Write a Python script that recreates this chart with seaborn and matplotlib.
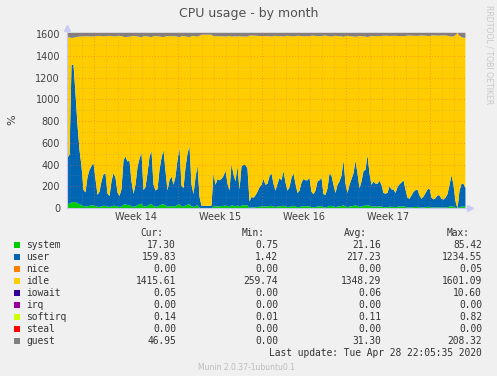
import matplotlib
matplotlib.use("Agg")
import matplotlib.pyplot as plt
import matplotlib.dates as mdates
import matplotlib.patches as mpatches
import pandas as pd
import seaborn as sns

# One sample every 4 hours, first sample on 2020-03-27 18:00
start = pd.Timestamp('2020-03-27 18:00')
step_hours = 4

user = [
    430, 450, 1265, 1265, 1000, 720, 500, 360, 150, 130,
    270, 330, 360, 390, 250, 110, 140, 230, 290, 300,
    120, 100, 230, 300, 260, 130, 100, 160, 410, 440,
    400, 410, 230, 120, 200, 350, 420, 470, 150, 180,
    300, 440, 490, 200, 150, 160, 330, 430, 500, 320,
    150, 240, 270, 200, 270, 415, 520, 190, 170, 350,
    470, 535, 200, 120, 260, 370, 100, 25, 25, 25,
    25, 25, 25, 300, 200, 250, 240, 250, 275, 320,
    210, 150, 380, 290, 230, 360, 160, 360, 370, 370,
    340, 60, 95, 90, 110, 140, 180, 200, 250, 200,
    210, 275, 300, 210, 150, 210, 260, 240, 320, 220,
    150, 180, 260, 300, 210, 130, 150, 220, 250, 240,
    240, 260, 140, 120, 150, 230, 240, 260, 120, 115,
    170, 300, 280, 200, 130, 200, 230, 280, 415, 210,
    130, 200, 250, 300, 410, 300, 170, 230, 320, 330,
    460, 300, 200, 230, 210, 210, 235, 200, 130, 125,
    130, 190, 160, 160, 130, 180, 205, 220, 240, 160,
    90, 80, 110, 140, 155, 160, 110, 80, 100, 130,
    160, 170, 90, 75, 85, 110, 110, 80, 75, 90,
    120, 200, 285, 200, 60, 0, 150, 210, 210, 170,
]

system = [
    38, 45, 55, 60, 58, 48, 40, 30, 22, 18,
    20, 25, 30, 28, 22, 16, 15, 20, 25, 24,
    18, 15, 20, 26, 24, 17, 15, 18, 35, 38,
    32, 30, 20, 15, 20, 30, 38, 45, 20, 18,
    25, 35, 42, 22, 16, 18, 28, 35, 40, 28,
    16, 20, 25, 18, 22, 32, 40, 20, 18, 28,
    35, 40, 20, 14, 22, 30, 8, 0, 0, 0,
    0, 0, 0, 25, 18, 20, 20, 22, 24, 28,
    20, 15, 30, 25, 20, 28, 15, 28, 30, 30,
    28, 6, 10, 10, 12, 14, 16, 18, 22, 18,
    18, 22, 25, 18, 14, 18, 22, 20, 26, 19,
    14, 16, 22, 25, 18, 13, 14, 19, 21, 20,
    20, 22, 13, 12, 14, 19, 20, 22, 12, 11,
    15, 24, 23, 18, 13, 18, 20, 23, 30, 18,
    13, 18, 21, 24, 30, 24, 15, 19, 25, 26,
    32, 24, 18, 19, 18, 18, 20, 18, 13, 12,
    13, 17, 15, 15, 13, 16, 18, 19, 20, 15,
    10, 9, 11, 13, 14, 15, 11, 9, 10, 12,
    15, 15, 10, 9, 9, 11, 11, 9, 8, 10,
    12, 17, 22, 17, 8, 0, 14, 17, 17, 17,
]

guest = [
    40, 45, 48, 46, 42, 38, 36, 35, 34, 33,
    32, 34, 36, 35, 33, 30, 30, 32, 34, 33,
    30, 29, 31, 34, 33, 30, 29, 31, 38, 40,
    38, 37, 32, 29, 31, 35, 38, 42, 33, 31,
    34, 38, 41, 33, 30, 31, 35, 38, 40, 35,
    30, 32, 34, 31, 33, 37, 40, 32, 31, 34,
    38, 41, 32, 29, 33, 36, 28, 18, 18, 18,
    18, 18, 18, 34, 31, 33, 32, 33, 34, 36,
    32, 29, 37, 34, 32, 36, 30, 35, 36, 36,
    35, 26, 27, 27, 28, 29, 30, 31, 33, 31,
    31, 33, 35, 31, 29, 31, 33, 32, 35, 32,
    29, 30, 33, 35, 31, 28, 29, 32, 33, 32,
    32, 33, 28, 27, 29, 32, 32, 33, 27, 27,
    30, 35, 34, 31, 28, 31, 32, 34, 38, 31,
    28, 31, 33, 35, 38, 35, 30, 32, 35, 35,
    40, 35, 31, 32, 31, 31, 32, 31, 28, 28,
    28, 30, 29, 29, 28, 30, 31, 32, 33, 30,
    26, 25, 27, 28, 29, 29, 27, 25, 26, 28,
    29, 30, 26, 25, 25, 27, 27, 25, 25, 26,
    28, 32, 37, 32, 24, 0, 28, 40, 46, 47,
]

# top of the stack (16 cores + guest)
total_top = 1617

names = ['system', 'user', 'nice', 'idle', 'iowait', 'irq', 'softirq',
         'steal', 'guest']
colors = ['#00CC00', '#0066B3', '#FF8000', '#FFCC00', '#330099', '#990099',
          '#CCFF00', '#FF0000', '#808080']
cur_vals = [17.30, 159.83, 0.00, 1415.61, 0.05, 0.00, 0.14, 0.00, 46.95]
min_vals = [0.75, 1.42, 0.00, 259.74, 0.00, 0.00, 0.01, 0.00, 0.00]
avg_vals = [21.16, 217.23, 0.00, 1348.29, 0.06, 0.00, 0.11, 0.00, 31.30]
max_vals = [85.42, 1234.55, 0.05, 1601.09, 10.60, 0.00, 0.82, 0.00, 208.32]

week_labels = ['Week 14', 'Week 15', 'Week 16', 'Week 17']
week_starts = ['2020-03-30', '2020-04-06', '2020-04-13', '2020-04-20']

df = pd.DataFrame({'system': system, 'user': user, 'guest': guest})
df['time'] = pd.date_range(start, periods=len(df), freq=f'{step_hours}h')
df['idle'] = total_top - df['system'] - df['user'] - df['guest']

sns.set_style('white')
plt.rcParams['font.family'] = ['DejaVu Sans']

W, H = 497, 376
fig = plt.figure(figsize=(W / 100, H / 100), dpi=100, facecolor='#F0F0F0')
ax = fig.add_axes([67 / W, (H - 208) / H, 399 / W, 175.8 / H])
ax.set_facecolor('white')

ax.stackplot(df['time'], df['system'], df['user'], df['idle'], df['guest'],
             colors=[colors[0], colors[1], colors[3], colors[8]],
             linewidth=0, zorder=1)

x_left = start
x_right = start + pd.Timedelta(hours=798)
ax.set_xlim(x_left, x_right)
ax.set_ylim(0, total_top)

ax.xaxis.set_major_locator(mdates.WeekdayLocator(byweekday=mdates.MO))
ax.xaxis.set_minor_locator(mdates.DayLocator())
ax.xaxis.set_major_formatter(plt.NullFormatter())
ax.set_yticks(range(0, 1601, 200))
ax.set_yticks(range(100, 1601, 200), minor=True)

ax.set_axisbelow(False)
ax.grid(which='major', color='#E86060', linestyle=(0, (1, 2.5)),
        linewidth=0.6, alpha=0.6)
ax.grid(which='minor', color='#909090', linestyle=(0, (1, 2.5)),
        linewidth=0.5, alpha=0.5)

ax.tick_params(axis='y', which='major', length=2, pad=3, color='#E08080',
               labelsize=7, labelcolor='#404040')
ax.tick_params(axis='y', which='minor', length=0)
ax.tick_params(axis='x', which='both', length=0, labelsize=7)

sns.despine(ax=ax, top=True, right=True)
for side in ['left', 'bottom']:
    ax.spines[side].set_color('#C8C8EE')
    ax.spines[side].set_linewidth(0.8)

# axis arrows
ax.plot([0], [1 + 4 / 175.8], marker='^', markersize=5, color='#C8CCF4',
        transform=ax.transAxes, clip_on=False)
ax.plot([1 + 4 / 399], [0], marker='>', markersize=5, color='#C8CCF4',
        transform=ax.transAxes, clip_on=False)

for label, ws in zip(week_labels, week_starts):
    mid = pd.Timestamp(ws) + pd.Timedelta(hours=84)
    ax.text(mid, -9 * total_top / 175.8, label, ha='center', va='center',
            fontsize=7, color='#404040')

ax.set_ylabel('%', fontsize=8, color='#404040', labelpad=13)

fig.text(248.5 / W, 1 - 13.5 / H, 'CPU usage - by month', ha='center',
         va='center', fontsize=9, color='#505050')
fig.text(489 / W, 1 - 5 / H, 'RRDTOOL / TOBI OETIKER', rotation=-90,
         ha='center', va='top', fontsize=5.6, color='#C8C8C8')

# legend table
mono = 'DejaVu Sans Mono'
txt = '#333333'
fs = 6.9
header_y = 233
fig.text(163 / W, 1 - header_y / H, 'Cur:', ha='right', va='center',
         family=mono, fontsize=fs, color=txt)
fig.text(265 / W, 1 - header_y / H, 'Min:', ha='right', va='center',
         family=mono, fontsize=fs, color=txt)
fig.text(367 / W, 1 - header_y / H, 'Avg:', ha='right', va='center',
         family=mono, fontsize=fs, color=txt)
fig.text(470 / W, 1 - header_y / H, 'Max:', ha='right', va='center',
         family=mono, fontsize=fs, color=txt)

for i, name in enumerate(names):
    y = 1 - (245 + 12 * i) / H
    fig.patches.append(mpatches.Rectangle((14 / W, y - 3 / H), 6 / W, 6 / H,
                                          transform=fig.transFigure,
                                          facecolor=colors[i],
                                          edgecolor='none'))
    fig.text(26 / W, y, name, ha='left', va='center', family=mono,
             fontsize=fs, color=txt)
    for xr, val in zip([176, 278, 381, 482],
                       [cur_vals[i], min_vals[i], avg_vals[i], max_vals[i]]):
        fig.text(xr / W, y, f'{val:.2f}', ha='right', va='center',
                 family=mono, fontsize=fs, color=txt)

fig.text(482 / W, 1 - 353 / H, 'Last update: Tue Apr 28 22:05:35 2020',
         ha='right', va='center', family=mono, fontsize=fs, color=txt)
fig.text(246 / W, 1 - 367 / H, 'Munin 2.0.37-1ubuntu0.1', ha='center',
         va='center', fontsize=5.5, color='#BBBBBB')

fig.savefig('out.png', dpi=100, facecolor=fig.get_facecolor())
